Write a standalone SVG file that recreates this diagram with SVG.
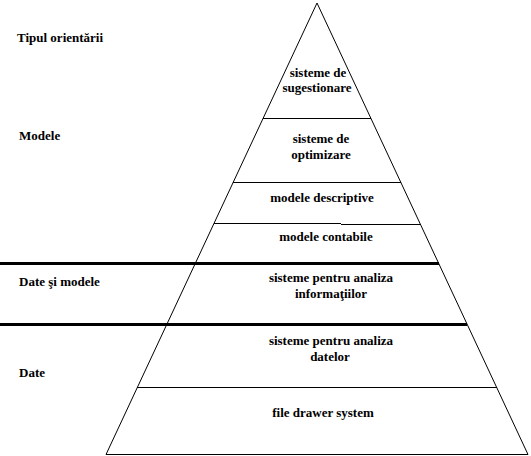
<svg xmlns="http://www.w3.org/2000/svg" width="531" height="456" viewBox="0 0 531 456">
<style>
text{font-family:"Liberation Serif","Times New Roman",serif;font-size:13px;font-weight:bold;fill:#000}
.c{text-anchor:middle}
.thin{stroke:#000;stroke-width:1;fill:none}
.thick{stroke:#000;stroke-width:3;fill:none}
</style>
<rect width="531" height="456" fill="#fff"/>
<g id="pyramid">
<polygon class="thin" points="317,3 106,454.5 528,454.5"/>
</g>
<g id="connectors">
<line class="thin" x1="263" y1="118.5" x2="371" y2="118.5"/>
<line class="thin" x1="233" y1="182.5" x2="401" y2="182.5"/>
<line class="thin" x1="214" y1="223.5" x2="341" y2="223.5"/>
<line class="thin" x1="341" y1="224.5" x2="420" y2="224.5"/>
<line class="thick" x1="0" y1="263.5" x2="439" y2="263.5"/>
<line class="thick" x1="0" y1="324.5" x2="467" y2="324.5"/>
<line class="thin" x1="137" y1="387.5" x2="497" y2="387.5"/>
</g>
<g id="label-tipul"><text x="17" y="42">Tipul orientării</text></g>
<g id="label-modele"><text x="19" y="140">Modele</text></g>
<g id="label-date-modele"><text x="19" y="286">Date şi modele</text></g>
<g id="label-date"><text x="19" y="377">Date</text></g>
<g id="node-sugestionare"><text class="c" x="318" y="77">sisteme de</text><text class="c" x="317" y="92">sugestionare</text></g>
<g id="node-optimizare"><text class="c" x="321" y="143">sisteme de</text><text class="c" x="321" y="159">optimizare</text></g>
<g id="node-descriptive"><text class="c" x="322" y="202">modele descriptive</text></g>
<g id="node-contabile"><text class="c" x="326" y="241">modele contabile</text></g>
<g id="node-informatii"><text class="c" x="331" y="282">sisteme pentru analiza</text><text class="c" x="331" y="298">informaţiilor</text></g>
<g id="node-datelor"><text class="c" x="331" y="345">sisteme pentru analiza</text><text class="c" x="330" y="361">datelor</text></g>
<g id="node-file"><text class="c" x="323" y="417">file drawer system</text></g>
</svg>
